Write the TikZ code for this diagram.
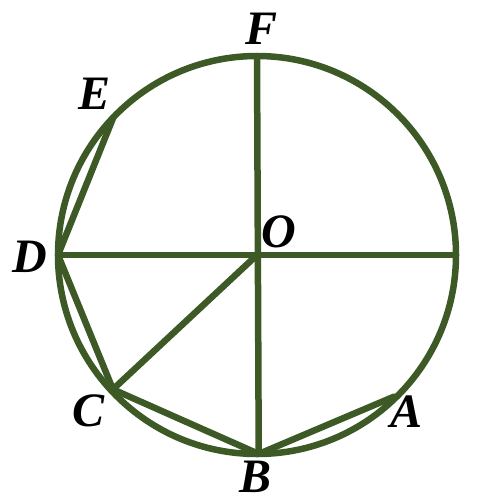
\documentclass[tikz,border=0pt]{standalone}
\usepackage{fontspec}
\setmainfont{Liberation Serif}
\usetikzlibrary{calc}
\definecolor{lineg}{RGB}{61,90,38}
\begin{document}
\begin{tikzpicture}[x=1pt,y=-1pt,
  seg/.style={draw=lineg,line width=6.5pt,line join=round,line cap=round},
  lab/.style={inner sep=0pt,font=\fontsize{48}{48}\selectfont\bfseries\itshape}]
\useasboundingbox (0,0) rectangle (477,504);
\coordinate (O) at (257,255);
\coordinate (F) at ($(O)+(90:199pt)$);
\coordinate (B) at ($(O)+(270.5:199pt)$);
\coordinate (D) at ($(O)+(180:199pt)$);
\coordinate (R) at ($(O)+(0:199pt)$);
\coordinate (E) at ($(O)+(136.2:199pt)$);
\coordinate (C) at ($(O)+(223:197pt)$);
\coordinate (A) at ($(O)+(-46:197pt)$);
\draw[seg] (O) circle (199pt);
\draw[seg] (F) -- (B);
\draw[seg] (D) -- (R);
\draw[seg] (E) -- (D) -- (C) -- (B) -- (A);
\draw[seg] (O) -- (C);
\node[lab] (lF) at (262,29) {F};
\node[lab] (lE) at (95,94) {E};
\node[lab] (lD) at (30,257) {D};
\node[lab] (lO) at (279,232) {O};
\node[lab] (lC) at (89,411) {C};
\node[lab] (lB) at (256,477) {B};
\node[lab] (lA) at (407,412) {A};
\end{tikzpicture}
\end{document}
